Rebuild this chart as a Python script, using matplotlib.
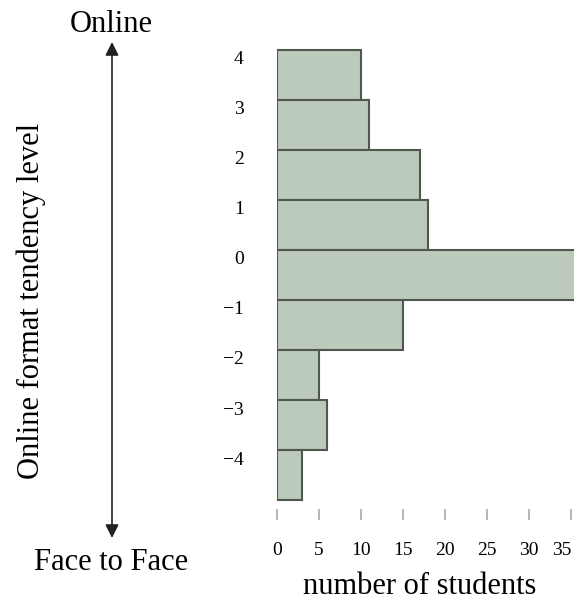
import matplotlib
matplotlib.use('Agg')
import matplotlib.pyplot as plt
import numpy as np

# tendency levels (online = +, face to face = -) and number of students
levels = [4, 3, 2, 1, 0, -1, -2, -3, -4]
students = [10, 11, 17, 18, 36, 15, 5, 6, 3]
level_labels = ['4', '3', '2', '1', '0', '\u22121', '\u22122', '\u22123', '\u22124']
x_ticks = [0, 5, 10, 15, 20, 25, 30, 35]

plt.rcParams['font.family'] = ['Liberation Serif', 'DejaVu Serif']

fig = plt.figure(figsize=(5.74, 6.02), dpi=100)
ax = fig.add_axes([0.4826, 0.1362, 0.5174, 0.7841])

# bars span from just below one level to just above it
ax.barh(np.array(levels) - 0.84, students, height=1.0, align='edge',
        color='#bccabc', edgecolor='#4f574f', linewidth=1.5)

ax.set_xlim(0, 35.36)
ax.set_ylim(-5.24, 4.2)

ax.set_yticks(levels)
ax.set_yticklabels(level_labels)
ax.set_xticks(x_ticks)
ax.tick_params(axis='y', length=0, pad=24, labelsize=14)
ax.tick_params(axis='x', direction='in', length=8, width=1.2, color='#aaaaaa',
               pad=16, labelsize=14)
# last tick label sits against the right edge
ax.get_xticklabels()[-1].set_horizontalalignment('right')
for s in ax.spines.values():
    s.set_visible(False)

# left side annotation: arrow between the two extremes
fig.text(111 / 574, 1 - 25 / 602, 'Online', ha='center', va='center', fontsize=22)
fig.text(111 / 574, 1 - 562 / 602, 'Face to Face', ha='center', va='center', fontsize=22)
fig.text(31 / 574, 1 - 301 / 602, 'Online format tendency level', ha='center',
         va='center', rotation=90, fontsize=22)
fig.text(420 / 574, 1 - 586 / 602, 'number of students', ha='center', va='center',
         fontsize=22)
ax.annotate('', xy=(112 / 574, 1 - 42 / 602), xytext=(112 / 574, 1 - 538 / 602),
            xycoords='figure fraction', textcoords='figure fraction',
            arrowprops=dict(arrowstyle='<|-|>', color='#222222', lw=1.2,
                            mutation_scale=20, shrinkA=0, shrinkB=0))

fig.savefig('out.png', dpi=100, facecolor='white')
